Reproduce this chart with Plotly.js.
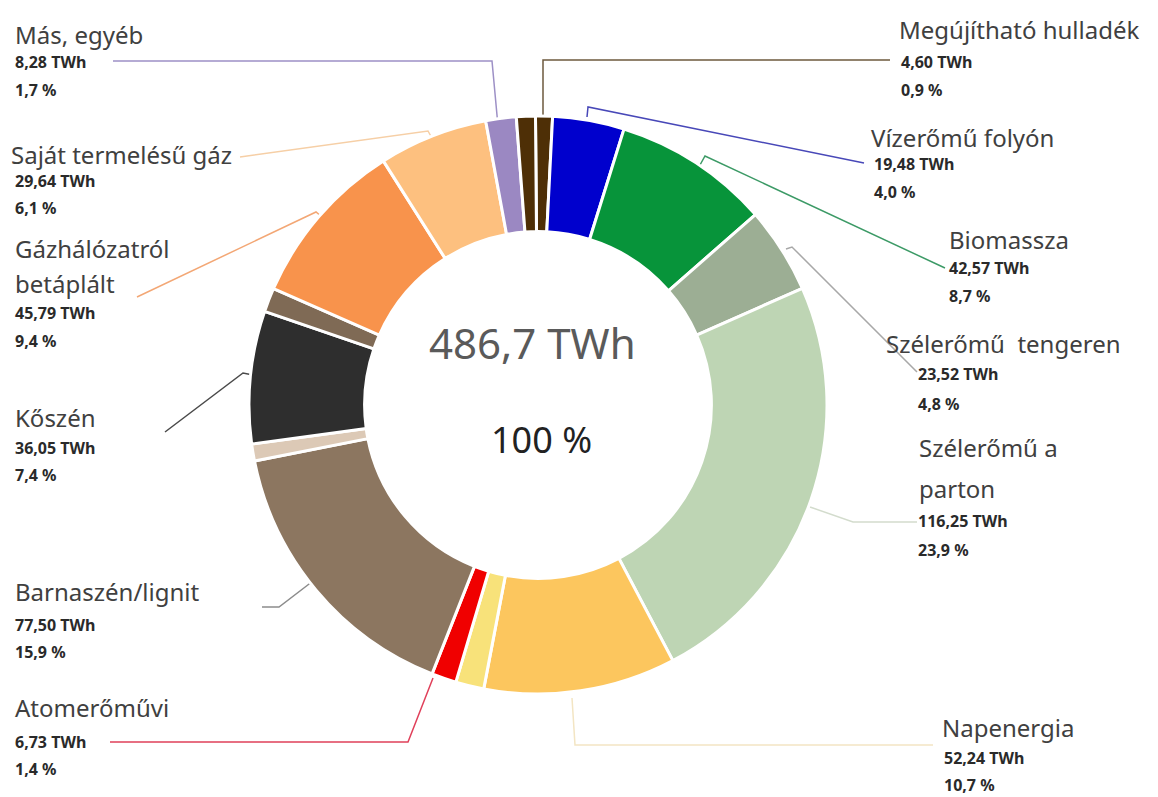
<!DOCTYPE html>
<html>
<head>
<meta charset="utf-8">
<script src="https://cdn.plot.ly/plotly-3.0.1.min.js"></script>
<style>
  html, body { margin: 0; padding: 0; background: #ffffff; }
  #chart { width: 1158px; height: 797px; }
</style>
</head>
<body>
<div id="chart"></div>
<script>
// ---------- DATA ----------
const categories = [
  'Megújítható hulladék', 'Vízerőmű folyón', 'Biomassza', 'Szélerőmű\u00a0 tengeren',
  'Szélerőmű a parton', 'Napenergia', 'jelöletlen 1', 'Atomerőművi',
  'Barnaszén/lignit', 'jelöletlen 2', 'Kőszén', 'jelöletlen 3',
  'Gázhálózatról betáplált', 'Saját termelésű gáz', 'Más, egyéb', 'jelöletlen 4'
];
const valuesTWh = [
  4.60, 19.48, 42.57, 23.52,
  116.25, 52.24, 7.7, 6.73,
  77.50, 4.6, 36.05, 6.6,
  45.79, 29.64, 8.28, 5.15
];
const sliceColors = [
  '#4e2f06', '#0000cd', '#07943a', '#9cae94',
  '#bed5b4', '#fcc65e', '#f8e27a', '#f00000',
  '#8c7660', '#dcc9b6', '#2e2e2e', '#7f6a55',
  '#f8934c', '#fdc07f', '#9b88c2', '#4e2f06'
];
// name lines as displayed (multi-line names split)
const displayNames = [
  ['Megújítható hulladék'], ['Vízerőmű folyón'], ['Biomassza'], ['Szélerőmű\u00a0 tengeren'],
  ['Szélerőmű a', 'parton'], ['Napenergia'], null, ['Atomerőművi'],
  ['Barnaszén/lignit'], null, ['Kőszén'], null,
  ['Gázhálózatról', 'betáplált'], ['Saját termelésű gáz'], ['Más, egyéb'], null
];
const totalTWh = 486.7;
const centerTotalText = '486,7 TWh';
const centerPctText = '100 %';

// ---------- LAYOUT HELPERS ----------
const W = 1158, H = 797;
const px = x => x / W;
const py = y => 1 - y / H;
const fmt = (v, d) => v.toFixed(d).replace('.', ',');

// label placement (pixel positions) per labelled slice index
const place = {
  14: {nx: 14, ny: [35], vx: 14, vy: 62, py: 90, line: [[113,61],[492,61],[498,126]], lc: '#9d90c6'},
  13: {nx: 10, ny: [154], vx: 14, vy: 181, py: 208, line: [[240,157],[428,131],[433,140]], lc: '#f6cfa6'},
  12: {nx: 14, ny: [248, 283], vx: 14, vy: 313, py: 341, line: [[137,297],[316,212],[322,217]], lc: '#f3a775'},
  10: {nx: 14, ny: [417], vx: 14, vy: 448, py: 475, line: [[165,432],[243,373],[253,375]], lc: '#4a4a4a'},
  8:  {nx: 14, ny: [591], vx: 14, vy: 625, py: 652, line: [[262,607],[279,607],[313,581]], lc: '#8c8c8c'},
  7:  {nx: 14, ny: [707], vx: 14, vy: 742, py: 769, line: [[110,742],[408,742],[433,678]], lc: '#e0405a'},
  0:  {nx: 898, ny: [30], vx: 900, vy: 62, py: 90, line: [[543,115],[543,60],[890,60]], lc: '#6d5a3e'},
  1:  {nx: 870, ny: [137], vx: 873, vy: 164, py: 192, line: [[587,117],[588,107],[864,163]], lc: '#4848b8'},
  2:  {nx: 948, ny: [240], vx: 948, vy: 268, py: 296, line: [[700,165],[705,156],[945,268]], lc: '#3c9a66'},
  3:  {nx: 885, ny: [343], vx: 917, vy: 374, py: 404, line: [[786,249],[792,247],[917,372]], lc: '#a8a8a8'},
  4:  {nx: 918, ny: [447, 488], vx: 917, vy: 521, py: 550, line: [[810,507],[853,522],[917,522]], lc: '#d3dccd'},
  5:  {nx: 941, ny: [727], vx: 943, vy: 758, py: 785, line: [[572,698],[575,745],[933,745]], lc: '#f3e5c3'}
};

const nameFont = {family: 'Noto Sans, Open Sans, sans-serif', size: 24, color: '#404040'};
const valFont = {family: 'Noto Sans, Open Sans, sans-serif', size: 16, color: '#2a2a2a'};

const annotations = [];
const shapes = [];
Object.keys(place).forEach(k => {
  const i = +k, p = place[k];
  displayNames[i].forEach((ln, j) => {
    annotations.push({xref: 'paper', yref: 'paper', x: px(p.nx), y: py(p.ny[j]), xanchor: 'left', yanchor: 'middle',
      text: ln, showarrow: false, font: nameFont, borderpad: 0});
  });
  annotations.push({xref: 'paper', yref: 'paper', x: px(p.vx), y: py(p.vy), xanchor: 'left', yanchor: 'middle',
    text: '<b>' + fmt(valuesTWh[i], 2) + ' TWh</b>', showarrow: false, font: valFont, borderpad: 0});
  annotations.push({xref: 'paper', yref: 'paper', x: px(p.vx), y: py(p.py), xanchor: 'left', yanchor: 'middle',
    text: '<b>' + fmt(valuesTWh[i] / totalTWh * 100, 1) + ' %</b>', showarrow: false, font: valFont, borderpad: 0});
  const path = p.line.map((pt, j) => (j ? 'L' : 'M') + px(pt[0]) + ',' + py(pt[1])).join(' ');
  shapes.push({type: 'path', xref: 'paper', yref: 'paper', path: path, line: {color: p.lc, width: 1.5}, layer: 'below'});
});

// center texts
annotations.push({xref: 'paper', yref: 'paper', x: px(532), y: py(342), xanchor: 'center', yanchor: 'middle',
  text: centerTotalText, showarrow: false, font: {family: 'Noto Sans, Open Sans, sans-serif', size: 42, color: '#5a5a5a'}});
annotations.push({xref: 'paper', yref: 'paper', x: px(541), y: py(439), xanchor: 'center', yanchor: 'middle',
  text: centerPctText, showarrow: false, font: {family: 'Noto Sans, Open Sans, sans-serif', size: 36, color: '#222222'}});

const cx = 538, cy = 405, R = 289;
const trace = {
  type: 'pie',
  labels: categories,
  values: valuesTWh,
  sort: false,
  direction: 'clockwise',
  rotation: -0.5,
  hole: 0.6,
  marker: {colors: sliceColors, line: {color: '#ffffff', width: 3}},
  textinfo: 'none',
  hoverinfo: 'none',
  showlegend: false,
  domain: {x: [px(cx - R), px(cx + R)], y: [py(cy + R), py(cy - R)]}
};

const layout = {
  width: W, height: H,
  margin: {l: 0, r: 0, t: 0, b: 0},
  paper_bgcolor: '#ffffff',
  plot_bgcolor: '#ffffff',
  showlegend: false,
  annotations: annotations,
  shapes: shapes
};

Plotly.newPlot('chart', [trace], layout, {displayModeBar: false, staticPlot: true});
</script>
</body>
</html>
